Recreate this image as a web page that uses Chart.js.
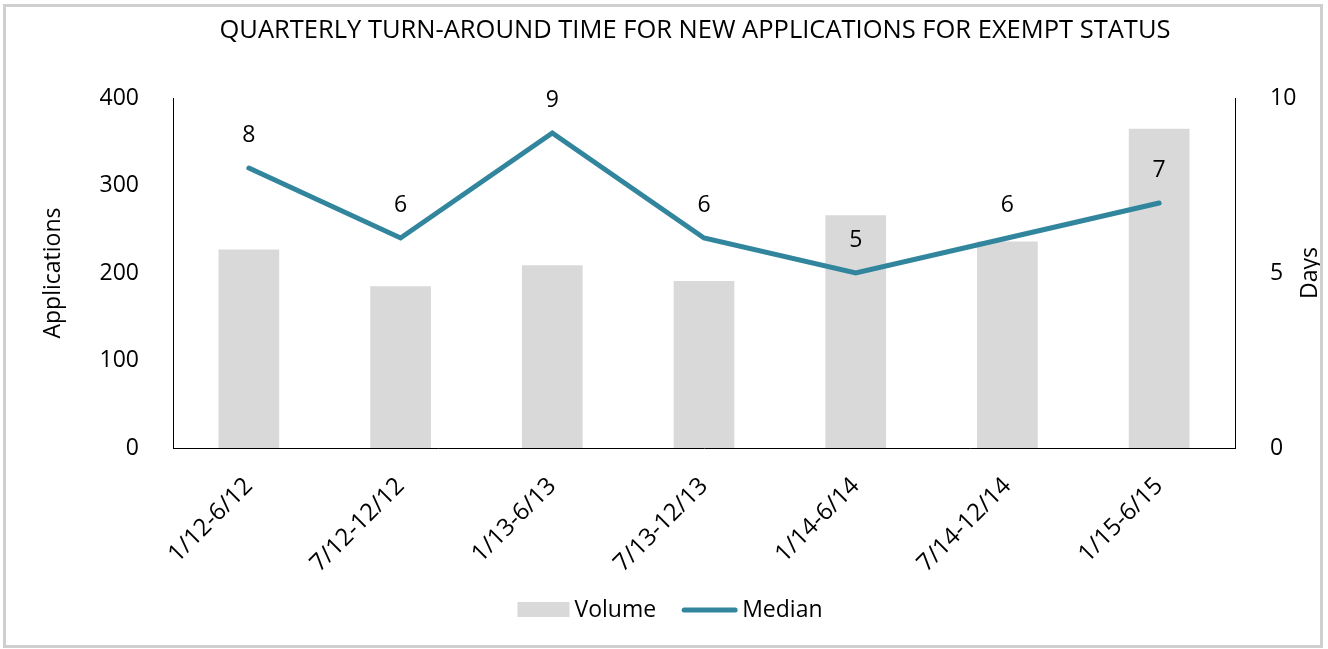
<!DOCTYPE html>
<html>
<head>
<meta charset="utf-8">
<script src="https://cdn.jsdelivr.net/npm/chart.js@4/dist/chart.umd.min.js"></script>
<style>
  html, body { margin: 0; padding: 0; background: #fff; }
  #wrap { width: 1328px; height: 649px; position: relative; }
</style>
</head>
<body>
<div id="wrap"><canvas id="turnChart"></canvas></div>
<script>
// chart data
const periods = ["1/12-6/12", "7/12-12/12", "1/13-6/13", "7/13-12/13", "1/14-6/14", "7/14-12/14", "1/15-6/15"];
const volume = [227, 185, 209, 191, 266, 236, 365];
const median = [8, 6, 9, 6, 5, 6, 7];
const appTicks = [0, 100, 200, 300, 400];
const dayTicks = [0, 5, 10];
const chartTitle = "QUARTERLY TURN-AROUND TIME FOR NEW APPLICATIONS FOR EXEMPT STATUS";

const FONT = "'Open Sans', sans-serif";
const barColor = "#d9d9d9";
const lineColor = "#31859c";

// title, labels over the line, right axis title, legend and frame
const extras = {
  id: "extras",
  afterDatasetsDraw(chart) {
    const ctx = chart.ctx;
    const meta = chart.getDatasetMeta(1);
    ctx.save();
    ctx.fillStyle = "#000";
    ctx.font = "23px " + FONT;
    ctx.textAlign = "center";
    ctx.textBaseline = "middle";
    meta.data.forEach((pt, i) => {
      ctx.fillText(median[i], pt.x, pt.y - 33);
    });
    ctx.restore();
  },
  afterDraw(chart) {
    const ctx = chart.ctx;

    // chart title, sits a bit right of centre like the original
    ctx.save();
    ctx.fillStyle = "#000";
    ctx.font = "25.5px " + FONT;
    ctx.textAlign = "center";
    ctx.textBaseline = "middle";
    ctx.fillText(chartTitle, 695, 31);
    ctx.restore();

    // right axis title, reading bottom to top
    ctx.save();
    ctx.fillStyle = "#000";
    ctx.font = "23px " + FONT;
    ctx.textAlign = "center";
    ctx.textBaseline = "middle";
    ctx.translate(chart.chartArea.right + 75, (chart.chartArea.top + chart.chartArea.bottom) / 2);
    ctx.rotate(-Math.PI / 2);
    ctx.fillText("Days", 0, 0);
    ctx.restore();

    // legend
    ctx.save();
    ctx.font = "23px " + FONT;
    ctx.textBaseline = "middle";
    ctx.fillStyle = "#000";
    const wVol = ctx.measureText("Volume").width;
    const wMed = ctx.measureText("Median").width;
    const total = 52 + 5 + wVol + 26 + 55 + 5 + wMed;
    let x = chart.width / 2 + 6 - total / 2;
    const y = 610;
    ctx.fillStyle = barColor;
    ctx.fillRect(x, y - 8, 52, 15);
    x += 57;
    ctx.fillStyle = "#000";
    ctx.fillText("Volume", x, y);
    x += wVol + 26;
    ctx.strokeStyle = lineColor;
    ctx.lineWidth = 5;
    ctx.lineCap = "round";
    ctx.beginPath();
    ctx.moveTo(x + 2, y);
    ctx.lineTo(x + 53, y);
    ctx.stroke();
    x += 60;
    ctx.fillText("Median", x, y);
    ctx.restore();

    // outer frame
    ctx.save();
    ctx.strokeStyle = "#cfcfcf";
    ctx.lineWidth = 3;
    ctx.strokeRect(4.5, 5.5, 1317, 641);
    ctx.restore();
  }
};

new Chart(document.getElementById("turnChart"), {
  data: {
    labels: periods,
    datasets: [{
      type: "bar",
      label: "Volume",
      data: volume,
      backgroundColor: barColor,
      yAxisID: "y",
      barPercentage: 0.4,
      categoryPercentage: 1.0,
      order: 2,
    }, {
      type: "line",
      label: "Median",
      data: median,
      borderColor: lineColor,
      borderWidth: 5,
      borderCapStyle: "round",
      pointRadius: 0,
      tension: 0,
      yAxisID: "y1",
      order: 1,
    }],
  },
  options: {
    responsive: true,
    maintainAspectRatio: false,
    animation: false,
    layout: { padding: { top: 98, left: 0, right: 0, bottom: 0 } },
    plugins: {
      legend: { display: false },
      tooltip: { enabled: false },
      title: { display: false },
    },
    scales: {
      x: {
        grid: { display: false },
        border: { display: true, color: "#000", width: 1 },
        ticks: {
          color: "#000",
          font: { family: FONT, size: 24 },
          minRotation: 45,
          maxRotation: 45,
          padding: 16,
        },
        afterFit: s => { s.height = 201; },
      },
      y: {
        position: "left",
        min: 0,
        max: 400,
        afterBuildTicks: s => { s.ticks = appTicks.map(v => ({ value: v })); },
        grid: { display: false },
        border: { display: true, color: "#000", width: 1 },
        ticks: { color: "#000", font: { family: FONT, size: 23 }, padding: 26 },
        title: {
          display: true,
          text: "Applications",
          color: "#000",
          font: { family: FONT, size: 23 },
          padding: { top: 40, bottom: 0 },
        },
        afterFit: s => { s.width = 173; },
      },
      y1: {
        position: "right",
        min: 0,
        max: 10,
        afterBuildTicks: s => { s.ticks = dayTicks.map(v => ({ value: v })); },
        grid: { display: false },
        border: { display: true, color: "#000", width: 1 },
        ticks: { color: "#000", font: { family: FONT, size: 23 }, padding: 27 },
        afterFit: s => { s.width = 93; },
      },
    },
  },
  plugins: [extras],
});
</script>
</body>
</html>
